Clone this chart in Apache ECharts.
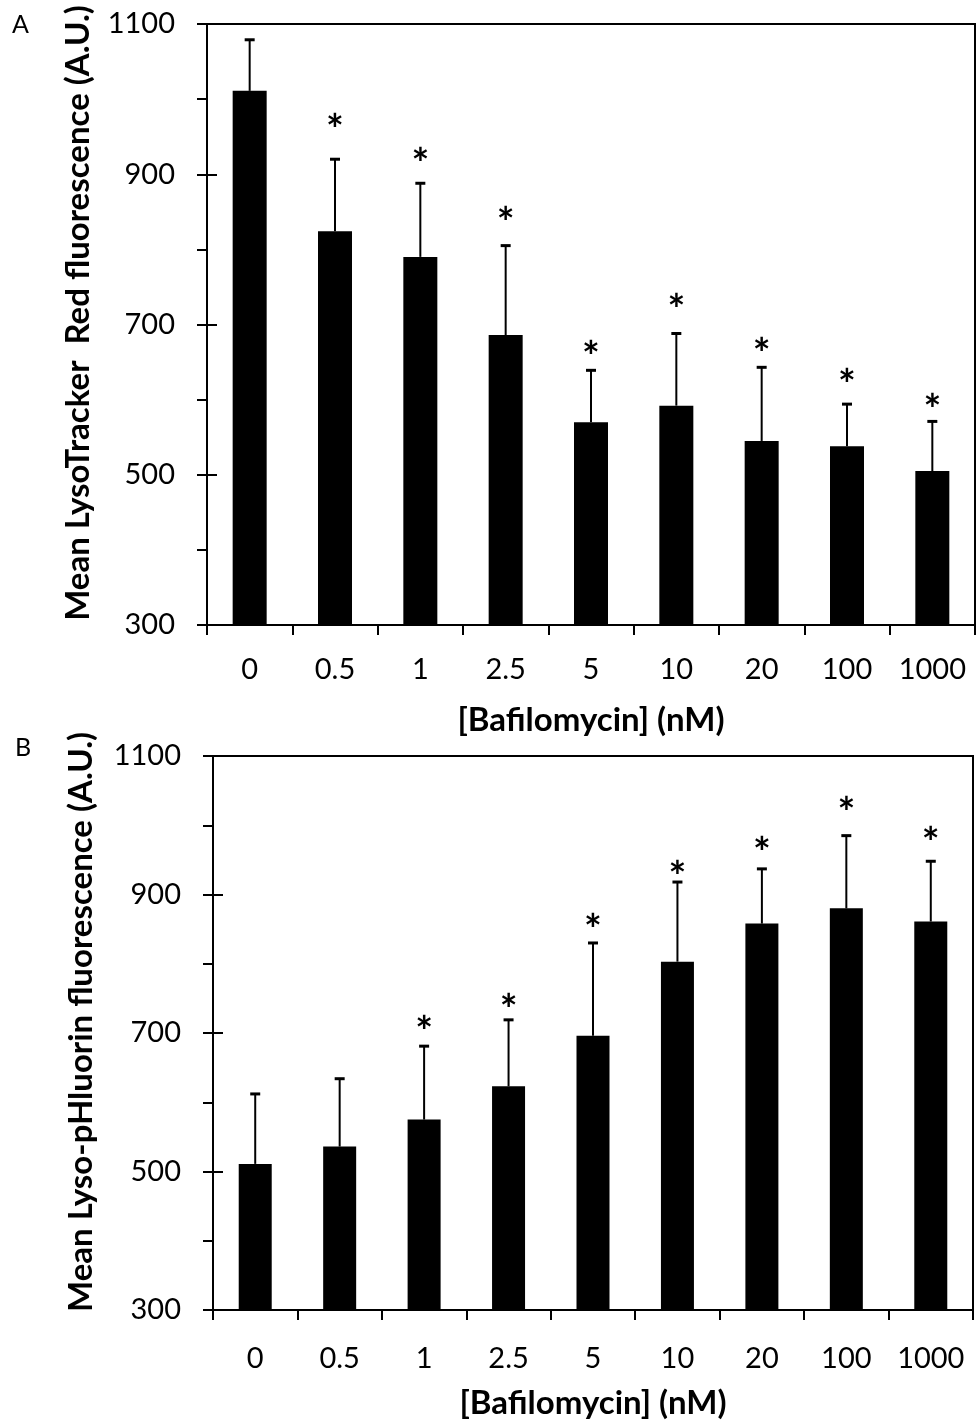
<!DOCTYPE html>
<html>
<head>
<meta charset="utf-8">
<script src="https://cdn.jsdelivr.net/npm/echarts@6/dist/echarts.min.js"></script>
<style>
  html, body { margin: 0; padding: 0; background: #fff; }
  #chart { width: 980px; height: 1421px; }
</style>
</head>
<body>
<div id="chart"></div>
<script>
// ---- data ----
const categories = ['0', '0.5', '1', '2.5', '5', '10', '20', '100', '1000'];
// Panel A: Mean LysoTracker Red fluorescence
const meanA  = [1011, 824, 790, 686, 570, 592, 545, 538, 505];
const upperA = [1079, 920, 888, 805, 639, 688, 643, 594, 571];
const starA  = [null, 968, 923, 845, 666, 728, 670, 629, 595];
// Panel B: Mean Lyso-pHluorin fluorescence
const meanB  = [511, 536, 575, 623, 696, 803, 858, 880, 861];
const upperB = [612, 634, 681, 719, 830, 918, 937, 985, 948];
const starB  = [null, null, 712, 743, 859, 935, 970, 1027, 985];
const yMin = 300, yMax = 1100;
const titleA = 'Mean LysoTracker  Red fluorescence (A.U.)';
const titleB = 'Mean Lyso-pHluorin fluorescence (A.U.)';
const xTitle = '[Bafilomycin] (nM)';

const FONT = 'Lato, "Open Sans", sans-serif';
const STAR_SIZE = 42;

function errData(mean, upper, star) {
  return mean.map((m, i) => [i, m, upper[i], star[i] == null ? '-' : star[i]]);
}

function renderErr(params, api) {
  const i = api.value(0);
  const p0 = api.coord([i, api.value(1)]);
  const p1 = api.coord([i, api.value(2)]);
  const children = [
    { type: 'line', shape: { x1: p0[0], y1: p0[1], x2: p1[0], y2: p1[1] },
      style: { stroke: '#000', lineWidth: 2 } },
    { type: 'line', shape: { x1: p1[0] - 5, y1: p1[1], x2: p1[0] + 5, y2: p1[1] },
      style: { stroke: '#000', lineWidth: 3 } }
  ];
  const s = api.value(3);
  if (!isNaN(s)) {
    const ps = api.coord([i, s]);
    children.push({ type: 'text', x: ps[0], y: ps[1] + STAR_SIZE * 0.2,
      style: { text: '*', font: 'bold ' + STAR_SIZE + 'px ' + FONT, fill: '#000',
               textAlign: 'center', textVerticalAlign: 'middle' } });
  }
  return { type: 'group', children: children };
}

function makeAxes(gridIndex, labelMargin, nameGap) {
  const x = {
    type: 'category', gridIndex: gridIndex, data: categories, boundaryGap: true,
    axisLine: { lineStyle: { color: '#000', width: 2 } },
    axisTick: { show: true, inside: false, length: 10, interval: 0, lineStyle: { color: '#000', width: 2 } },
    axisLabel: { color: '#000', fontSize: 29, fontFamily: FONT, margin: labelMargin, interval: 0 },
    name: xTitle, nameLocation: 'middle', nameGap: nameGap,
    nameTextStyle: { color: '#000', fontSize: 33, fontWeight: 'bold', fontFamily: FONT },
    splitLine: { show: false }
  };
  const y1 = {
    type: 'value', gridIndex: gridIndex, min: yMin, max: yMax, interval: 100,
    axisLine: { show: true, lineStyle: { color: '#000', width: 2 } },
    axisTick: { show: true, inside: false, length: 10, lineStyle: { color: '#000', width: 2 } },
    axisLabel: { color: '#000', fontSize: 29, fontFamily: FONT, margin: 32,
      formatter: v => ((v - yMin) % 200 === 0 ? String(v) : '') },
    splitLine: { show: false }
  };
  const y2 = {
    type: 'value', gridIndex: gridIndex, min: yMin, max: yMax, interval: 200, position: 'left',
    axisLine: { show: false },
    axisTick: { show: true, inside: true, length: 10, lineStyle: { color: '#000', width: 2 } },
    axisLabel: { show: false }, splitLine: { show: false }
  };
  return { x, y1, y2 };
}

const axA = makeAxes(0, 30, 79);
const axB = makeAxes(1, 34, 77);

const chart = echarts.init(document.getElementById('chart'), null, { renderer: 'canvas' });
chart.setOption({
  backgroundColor: '#fff',
  animation: false,
  grid: [
    { left: 207, top: 24, width: 768, height: 601, show: true, borderColor: '#000', borderWidth: 2, backgroundColor: 'transparent' },
    { left: 213, top: 756, width: 760, height: 554, show: true, borderColor: '#000', borderWidth: 2, backgroundColor: 'transparent' }
  ],
  xAxis: [axA.x, axB.x],
  yAxis: [axA.y1, axA.y2, axB.y1, axB.y2],
  series: [
    { type: 'bar', xAxisIndex: 0, yAxisIndex: 0, data: meanA, barWidth: 34,
      itemStyle: { color: '#000' } },
    { type: 'custom', xAxisIndex: 0, yAxisIndex: 0, data: errData(meanA, upperA, starA),
      renderItem: renderErr, z: 5, encode: { x: 0, y: [1, 2] } },
    { type: 'bar', xAxisIndex: 1, yAxisIndex: 2, data: meanB, barWidth: 33,
      itemStyle: { color: '#000' } },
    { type: 'custom', xAxisIndex: 1, yAxisIndex: 2, data: errData(meanB, upperB, starB),
      renderItem: renderErr, z: 5, encode: { x: 0, y: [1, 2] } }
  ],
  graphic: [
    { type: 'text', x: 12, y: 12, style: { text: 'A', font: '25px ' + FONT, fill: '#000' } },
    { type: 'text', x: 15, y: 735, style: { text: 'B', font: '25px ' + FONT, fill: '#000' } },
    { type: 'text', x: 78, y: 313, rotation: Math.PI / 2,
      style: { text: titleA, font: 'bold 33px ' + FONT, fill: '#000', textAlign: 'center', textVerticalAlign: 'middle' } },
    { type: 'text', x: 81, y: 1022, rotation: Math.PI / 2,
      style: { text: titleB, font: 'bold 33px ' + FONT, fill: '#000', textAlign: 'center', textVerticalAlign: 'middle' } }
  ]
});
</script>
</body>
</html>
